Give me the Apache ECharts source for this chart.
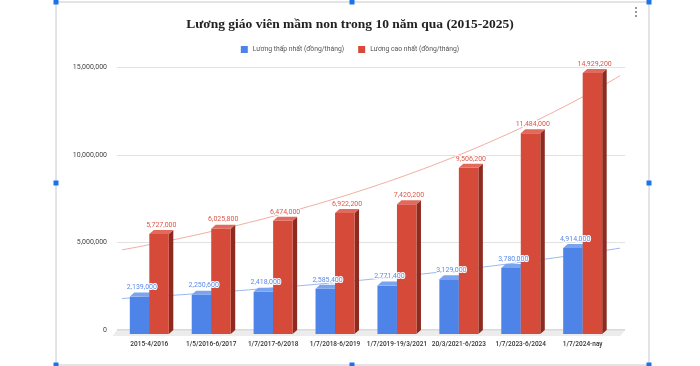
<!DOCTYPE html>
<html><head><meta charset="utf-8">
<script src="https://cdn.jsdelivr.net/npm/echarts@6/dist/echarts.min.js"></script>
<style>html,body{margin:0;padding:0;background:#fff}#c{width:700px;height:366px}</style>
</head><body><div id="c"></div>
<script>
const categories = ['2015-4/2016','1/5/2016-6/2017','1/7/2017-6/2018','1/7/2018-6/2019','1/7/2019-19/3/2021','20/3/2021-6/2023','1/7/2023-6/2024','1/7/2024-nay'];
const minSalary = [2139000,2250600,2418000,2585400,2771400,3129000,3780000,4914000];
const maxSalary = [5727000,6025800,6474000,6922200,7420200,9506200,11484000,14929200];
const seriesNames = ['Lương thấp nhất (đồng/tháng)','Lương cao nhất (đồng/tháng)'];
const yTicks = [0,5000000,10000000,15000000];

const fmt = v => Math.round(v).toLocaleString('en-US');

// exponential trendline y = a*e^(bx), fitted on ln y with weights y (spreadsheet-style)
function expFit(vals){
  let sw=0, sx=0, sy=0, sxx=0, sxy=0;
  vals.forEach((v,i)=>{const w=v, l=Math.log(v); sw+=w; sx+=w*i; sy+=w*l; sxx+=w*i*i; sxy+=w*i*l;});
  const b=(sw*sxy-sx*sy)/(sw*sxx-sx*sx), a=(sy-b*sx)/sw;
  return x=>Math.exp(a+b*x);
}
function trendData(vals, x0, x1){
  const f=expFit(vals), out=[];
  for(let k=0;k<=60;k++){const x=x0+(x1-x0)*k/60; out.push([x,f(x)]);}
  return out;
}

const D=4.5, DY=4;
function bar3D(front, top, side, sign, labelColor){
  return function(params, api){
    const idx=api.value(0), v=api.value(1);
    const p=api.coord([idx,v]), b=api.coord([idx,0]);
    const bw=api.size([1,0])[0]*0.315;
    const cx=p[0]+sign*bw/2, x0=cx-bw/2, x1=cx+bw/2, yt=p[1], yb=b[1];
    return {type:'group', children:[
      {type:'polygon', shape:{points:[[x1,yt],[x1+D,yt-DY],[x1+D,yb-DY],[x1,yb]]}, style:{fill:side}},
      {type:'rect', shape:{x:x0,y:yt,width:bw,height:yb-yt}, style:{fill:front}},
      {type:'polygon', shape:{points:[[x0,yt],[x0+D,yt-DY],[x1+D,yt-DY],[x1,yt]]}, style:{fill:top}},
      {type:'text', z2:10, style:{text:fmt(v), x:cx+D/2, y:yt-DY-1.5, align:'center', verticalAlign:'bottom',
        fill:labelColor, font:'7px Roboto, sans-serif', stroke:'#fff', lineWidth:2}}
    ]};
  };
}

const chart=echarts.init(document.getElementById('c'),null,{renderer:'canvas'});
const handles=[[56,2],[352,2],[649,2],[56,183],[649,183],[56,365],[352,365],[649,365]];
chart.setOption({
  backgroundColor:'#fff',
  animation:false,
  title:{text:'Lương giáo viên mầm non trong 10 năm qua (2015-2025)', left:'center', top:13,
    textStyle:{fontFamily:'Liberation Serif', fontWeight:'bold', fontSize:13.5, color:'#222'}},
  legend:{top:41, left:'center', itemWidth:7, itemHeight:7, itemGap:14, icon:'rect',
    data:[{name:seriesNames[0],itemStyle:{color:'#4e83e8'}},{name:seriesNames[1],itemStyle:{color:'#d64a3a'}}],
    textStyle:{fontSize:6.8, color:'#555', fontFamily:'Roboto'}},
  grid:[
    {left:117, right:75, top:67.7, bottom:36},
    {left:118.35, right:86.35, top:71.8, bottom:32},
    {left:122.85, right:81.85, top:67.7, bottom:36}
  ],
  xAxis:[
    {gridIndex:0, type:'category', data:categories, show:false},
    {gridIndex:1, type:'category', data:categories, axisLine:{show:false}, axisTick:{show:false},
      axisLabel:{interval:0, margin:7, fontSize:6.5, color:'#333', fontFamily:'Roboto', fontWeight:500}},
    {gridIndex:2, type:'value', min:-0.5, max:7.5, show:false}
  ],
  yAxis:[
    {gridIndex:0, type:'value', min:yTicks[0], max:yTicks[yTicks.length-1], interval:yTicks[1]-yTicks[0],
      axisLine:{show:false}, axisTick:{show:false},
      axisLabel:{formatter:v=>fmt(v), fontSize:7, color:'#444', margin:10, fontFamily:'Roboto'},
      splitLine:{lineStyle:{color:'#e2e2e2', width:1}}},
    {gridIndex:1, type:'value', min:yTicks[0], max:yTicks[yTicks.length-1], show:false},
    {gridIndex:2, type:'value', min:yTicks[0], max:yTicks[yTicks.length-1], show:false}
  ],
  graphic:[
    {type:'polygon', z:0, shape:{points:[[117,330],[625,330],[620.5,336],[112.5,336]]}, style:{fill:'#ececec'}},
    {type:'line', z:0, shape:{x1:117,y1:330,x2:625,y2:330}, style:{stroke:'#b5b5b5', lineWidth:1.2}},
    {type:'rect', z:0, shape:{x:56,y:2,width:593,height:363}, style:{fill:'none', stroke:'#c4c9d0', lineWidth:1}},
    ...handles.map(h=>({type:'rect', z:5, shape:{x:h[0]-2.5,y:h[1]-2.5,width:5,height:5}, style:{fill:'#1a73e8'}})),
    ...[8,12,16].map(y=>({type:'circle', z:5, shape:{cx:636,cy:y,r:1}, style:{fill:'#777'}}))
  ],
  series:[
    {type:'line', xAxisIndex:2, yAxisIndex:2, z:2, clip:false, showSymbol:false, smooth:false, silent:true,
      data:trendData(minSalary,-0.87,7.6), lineStyle:{color:'#8fb0ee', width:1, opacity:0.9}},
    {type:'line', xAxisIndex:2, yAxisIndex:2, z:2, clip:false, showSymbol:false, smooth:false, silent:true,
      data:trendData(maxSalary,-0.87,7.6), lineStyle:{color:'#efa49a', width:1, opacity:0.9}},
    {name:seriesNames[0], type:'custom', xAxisIndex:1, yAxisIndex:1, z:3,
      renderItem:bar3D('#4e83e8','#7aa3f0','#2f5fb8',-1,'#5b8be8'),
      data:minSalary.map((v,i)=>[i,v]), encode:{x:0,y:1}, itemStyle:{color:'#4e83e8'}},
    {name:seriesNames[1], type:'custom', xAxisIndex:1, yAxisIndex:1, z:3,
      renderItem:bar3D('#d64a3a','#e26a5c','#8e2b20',1,'#d9584a'),
      data:maxSalary.map((v,i)=>[i,v]), encode:{x:0,y:1}, itemStyle:{color:'#d64a3a'}}
  ]
});
</script></body></html>
